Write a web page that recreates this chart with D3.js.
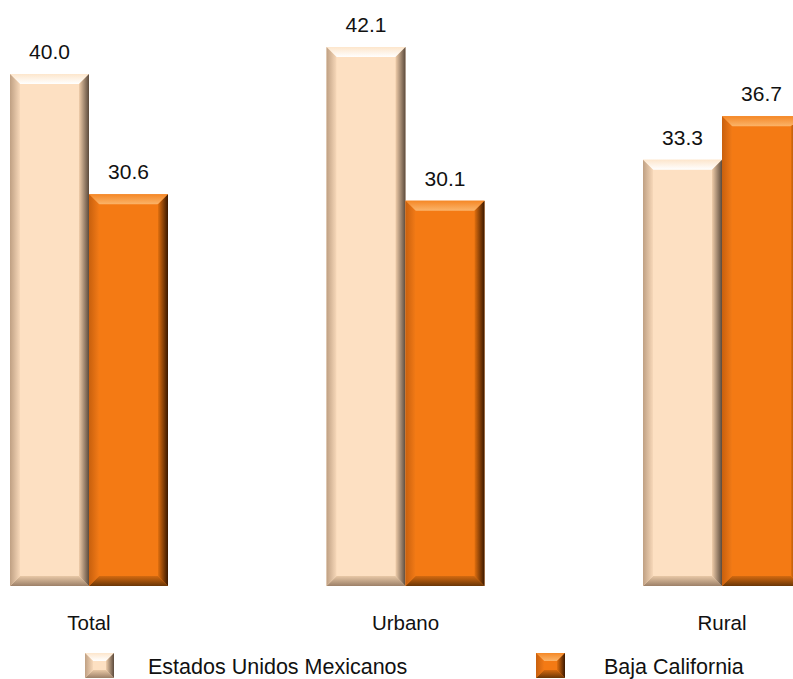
<!DOCTYPE html>
<html><head><meta charset="utf-8">
<script src="https://cdn.jsdelivr.net/npm/d3@7"></script>
<style>body{margin:0;background:#fff}svg{display:block}text{font-family:"Liberation Sans",Arial,sans-serif;fill:#111}</style>
</head><body>
<script>
const categories = ["Total", "Urbano", "Rural"];
const seriesNames = ["Estados Unidos Mexicanos", "Baja California"];
const nacional = [40.0, 42.1, 33.3];
const bajaCalifornia = [30.6, 30.1, 36.7];

const W = 793, H = 679;
const svg = d3.select("body").append("svg").attr("width", W).attr("height", H);
const defs = svg.append("defs");

const themes = [
  {face:"#FDE0C2", top:["#FFFFFF","#FDE6CC"], left:["#BFA083","#F7D8B9"], right:["#F0CDAA","#5B4A3C"], bottom:["#E8C8A6","#9C8068"]},
  {face:"#F47A14", top:["#FBB46A","#F58826"], left:["#C8600E","#F27A16"], right:["#E2700F","#3A1800"], bottom:["#D46A10","#6A3606"]}
];
function grad(id, c, x1, y1, x2, y2){
  const g = defs.append("linearGradient").attr("id", id)
    .attr("x1", x1).attr("y1", y1).attr("x2", x2).attr("y2", y2);
  g.append("stop").attr("offset", 0).attr("stop-color", c[0]);
  g.append("stop").attr("offset", 1).attr("stop-color", c[1]);
}
themes.forEach((t, i) => {
  grad("top"+i, t.top, 0, 1, 0, 0);
  grad("left"+i, t.left, 0, 0, 1, 0);
  grad("right"+i, t.right, 0, 0, 1, 0);
  grad("bot"+i, t.bottom, 0, 0, 0, 1);
});

const step = 316.5, barW = 79;
const x0 = d3.scaleOrdinal().domain(categories).range(categories.map((c, i) => 10 + i * step));
const x1 = d3.scaleBand().domain([0,1]).range([0, barW*2]).padding(0);
const y = d3.scaleLinear().domain([0, 40]).range([586, 74]);

const data = [];
categories.forEach((c, ci) => {
  [nacional[ci], bajaCalifornia[ci]].forEach((v, si) => data.push({c, si, v}));
});

const pts = a => a.map(p => p.join(",")).join(" ");
function bevelBox(sel, xl, xr, yt, yb, b, si){
  sel.append("rect").attr("x", xl).attr("y", yt).attr("width", xr-xl).attr("height", yb-yt).attr("fill", themes[si].face);
  sel.append("polygon").attr("points", pts([[xl,yt],[xr,yt],[xr-b,yt+b],[xl+b,yt+b]])).attr("fill", `url(#top${si})`);
  sel.append("polygon").attr("points", pts([[xl,yb],[xr,yb],[xr-b,yb-b],[xl+b,yb-b]])).attr("fill", `url(#bot${si})`);
  sel.append("polygon").attr("points", pts([[xl,yt],[xl+b,yt+b],[xl+b,yb-b],[xl,yb]])).attr("fill", `url(#left${si})`);
  sel.append("polygon").attr("points", pts([[xr,yt],[xr-b,yt+b],[xr-b,yb-b],[xr,yb]])).attr("fill", `url(#right${si})`);
}

const g = svg.append("g");
data.forEach(d => {
  const xl = x0(d.c) + x1(d.si), xr = xl + x1.bandwidth();
  const yt = y(d.v), yb = y(0);
  bevelBox(g.append("g"), xl, xr, yt, yb, 10, d.si);
  g.append("text").attr("x", (xl+xr)/2).attr("y", yt - 15).attr("text-anchor", "middle")
    .attr("font-size", 21).text(d3.format(".1f")(d.v));
});

categories.forEach(c => {
  svg.append("text").attr("x", x0(c) + barW).attr("y", 630).attr("text-anchor", "middle")
    .attr("font-size", 20.5).text(c);
});

// legend
const legendX = [85, 536];
const legendTextX = [148, 604];
seriesNames.forEach((s, si) => {
  bevelBox(svg.append("g"), legendX[si], legendX[si] + 29, 653, 678, 8, si);
  svg.append("text").attr("x", legendTextX[si]).attr("y", 674).attr("font-size", 21.5).text(s);
});
</script>
</body></html>
